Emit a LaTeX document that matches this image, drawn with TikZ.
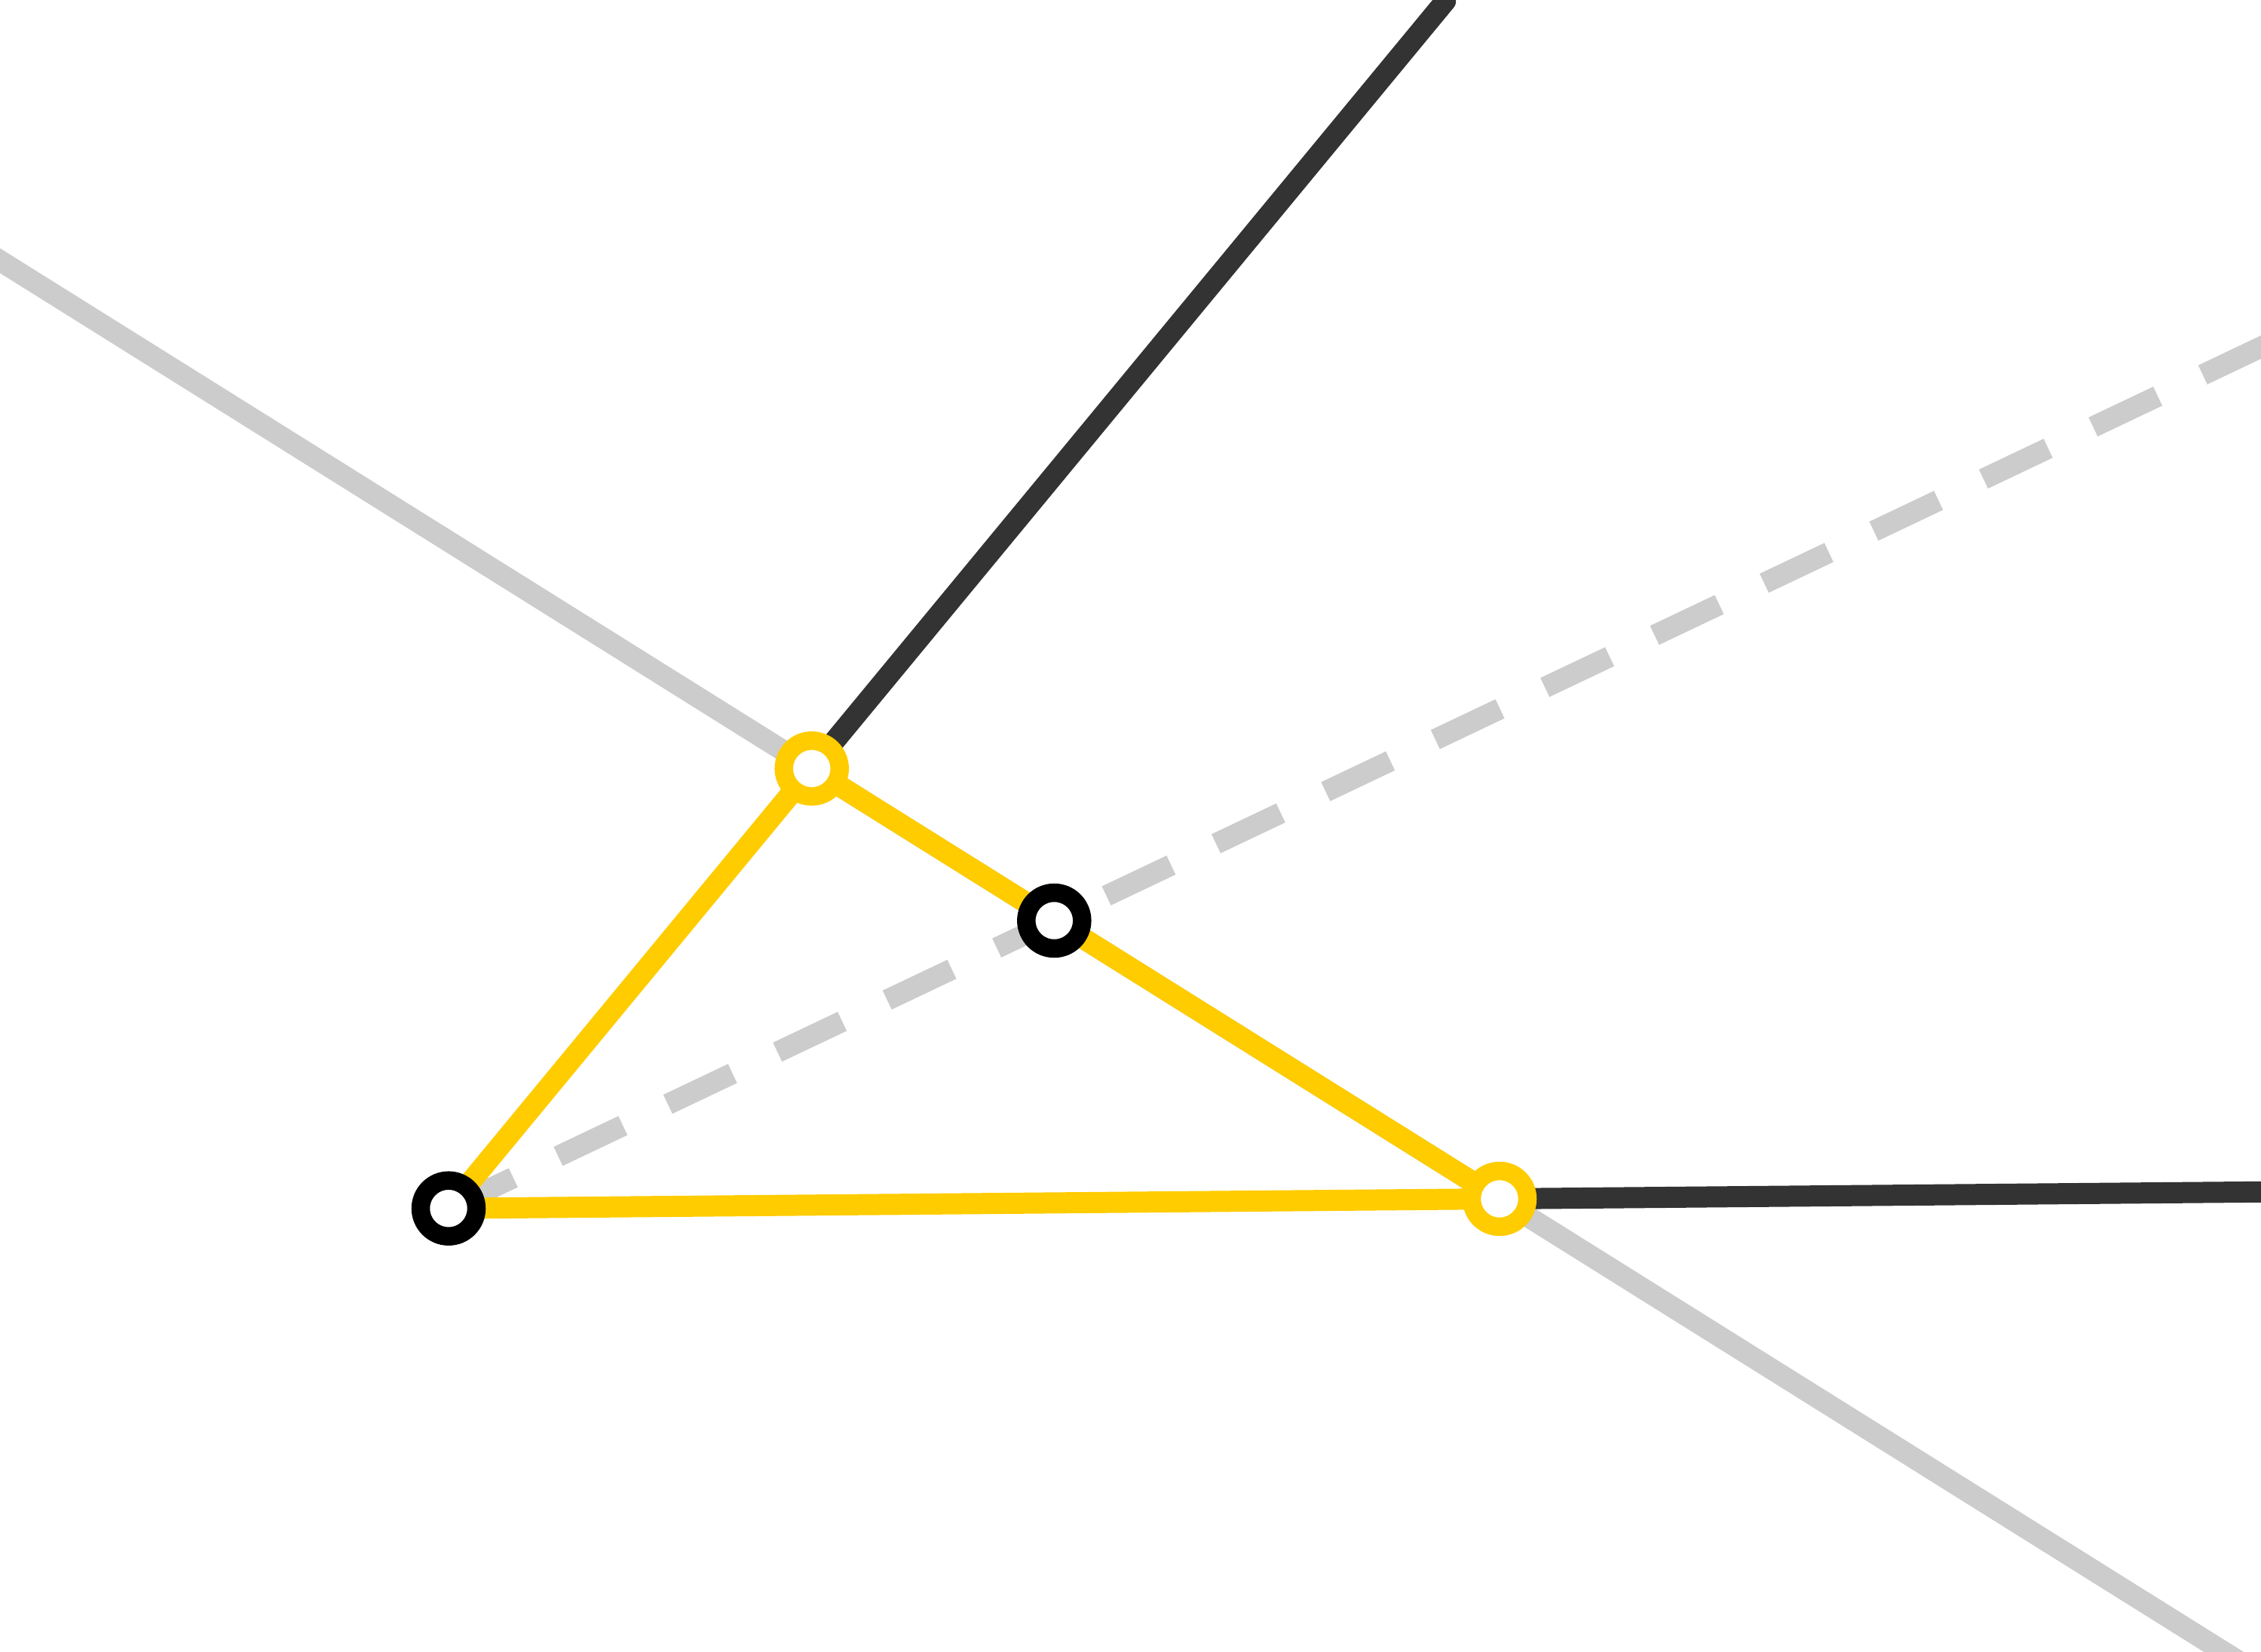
\documentclass[tikz,border=0pt]{standalone}
\definecolor{lightgray}{HTML}{CCCCCC}
\definecolor{darkline}{HTML}{333333}
\definecolor{amber}{HTML}{FFCC00}
\usepackage{tikz}
\usetikzlibrary{calc}

\begin{document}
\begin{tikzpicture}[
    line/.style={line width=0.28cm},
    ring/.style={circle,fill=white,line width=0.245cm,minimum size=0.74cm,inner sep=0pt}]
  \useasboundingbox (0,0) rectangle (29.99,21.9);
  \clip (0,0) rectangle (29.99,21.9);
  % triangle corners
  \coordinate (A) at (10.767,11.707);
  \coordinate (B) at (5.95,5.873);
  \coordinate (C) at (19.89,6.00);
  % foot of the bisector from B
  \coordinate (M) at (13.983,9.69);
  % far ends
  \coordinate (ACfar) at ($(C)!2.3!(A)$);
  \coordinate (CAfar) at ($(A)!2.2!(C)$);
  \coordinate (BAfar) at ($(B)!2.745!(A)$);
  \coordinate (BCfar) at ($(B)!2.3!(C)$);
  \coordinate (BMfar) at ($(B)!3.2!(M)$);
  % gray line through A and C
  \draw[line,lightgray] (ACfar) -- (CAfar);
  % dark rays
  \draw[line,darkline,line cap=round] (A) -- (BAfar);
  \draw[line,darkline] (C) -- (BCfar);
  % bisector
  \draw[line,lightgray,dash pattern=on 0.95cm off 0.66cm] (B) -- (BMfar);
  % triangle
  \draw[line,amber] (A) -- (C) -- (B) -- cycle;
  % points
  \node[ring,draw=amber] (a) at (A) {};
  \node[ring,draw=amber] (c) at (C) {};
  \node[ring,draw=black] (b) at (B) {};
  \node[ring,draw=black] (m) at (M) {};
\end{tikzpicture}
\end{document}
